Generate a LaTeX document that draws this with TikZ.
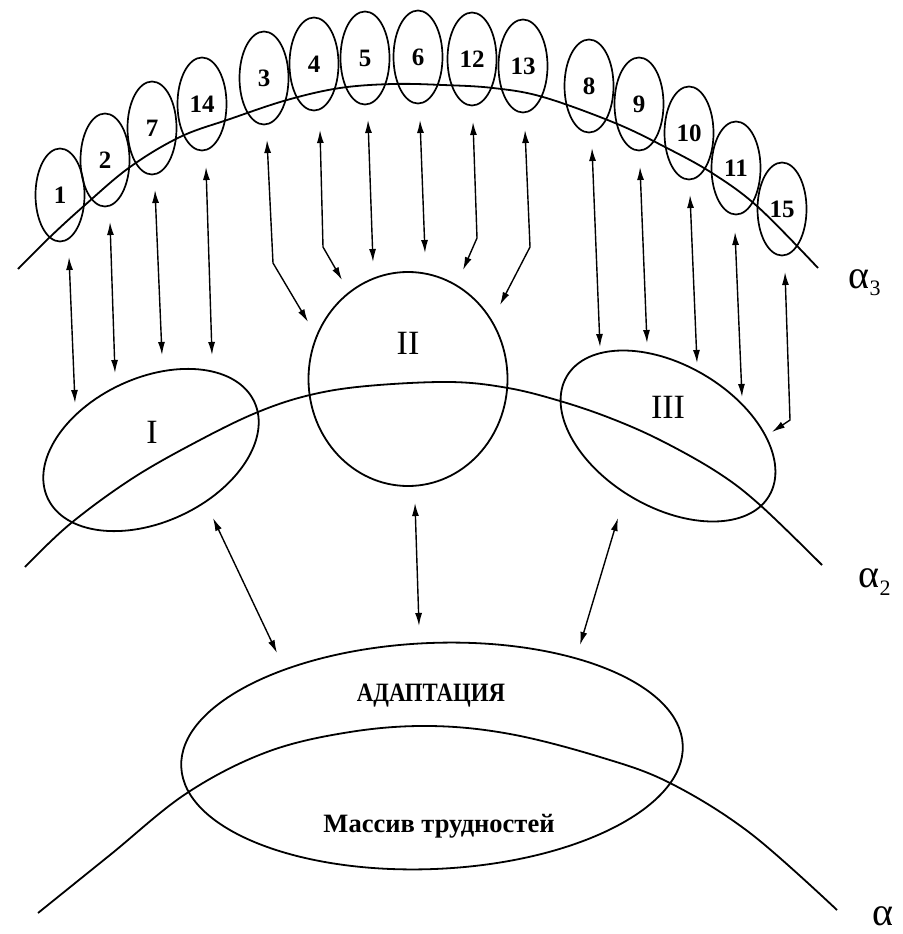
\documentclass[tikz,border=0pt]{standalone}
\usepackage{fontspec}
\setmainfont{Liberation Serif}
\usepackage{graphicx}
\usetikzlibrary{shapes.geometric,arrows.meta}
\begin{document}
\begin{tikzpicture}[x=1pt,y=-1pt,
  ln/.style={line width=1.8pt},
  small/.style={draw, ellipse, line width=1.7pt, minimum width=49pt, minimum height=93pt, inner sep=0pt, font=\fontsize{25}{25}\selectfont\bfseries},
  big/.style={draw, ellipse, line width=1.8pt, inner sep=0pt},
  roman/.style={font=\fontsize{34}{34}\selectfont, inner sep=0pt},
  biarrow/.style={line width=1.4pt, {Latex[length=13pt,width=7pt]}-{Latex[length=13pt,width=7pt]}},
  alab/.style={font=\fontsize{40}{40}\selectfont, inner sep=0pt, anchor=base west},
  sub/.style={font=\fontsize{22}{22}\selectfont, inner sep=0pt, anchor=base west},
  lbl/.style={font=\fontsize{26.5}{26.5}\selectfont\bfseries, inner sep=0pt, anchor=base}
]
\useasboundingbox (0,0) rectangle (902,934);
\fill[white] (0,0) rectangle (902,934);

% curves alpha_3, alpha_2, alpha
\draw[ln] plot[smooth, tension=0.6] coordinates {(18,269) (50,237) (85,205) (130,167) (180,137) (230,119) (287,100) (340,88) (393,84) (443,85) (493,88) (543,97) (615,123) (665,147) (712,173) (758,207) (818,268)};
\draw[ln] plot[smooth, tension=0.6] coordinates {(25,567) (70,524) (133,478) (200,440) (258,412) (310,395) (367,386) (450,382) (508,388) (560,401) (610,418) (660,440) (717,472) (760,505) (822,565)};
\draw[ln] plot[smooth, tension=0.6] coordinates {(38,913) (110,855) (187,793) (267,752) (350,732) (430,726) (510,734) (600,757) (670,783) (750,833) (837,910)};

% small ellipses
\node[small] (n1) at (60,195) {1};
\node[small] (n2) at (105,160) {2};
\node[small] (n7) at (152,128) {7};
\node[small] (n14) at (202,104) {14};
\node[small] (n3) at (264,78) {3};
\node[small] (n4) at (314,64) {4};
\node[small] (n5) at (365,58) {5};
\node[small] (n6) at (418,57) {6};
\node[small] (n12) at (472,59) {12};
\node[small] (n13) at (523,66) {13};
\node[small] (n8) at (589,86) {8};
\node[small] (n9) at (639,104) {9};
\node[small] (n10) at (689,133) {10};
\node[small] (n11) at (736,168) {11};
\node[small] (n15) at (782,209) {15};

% big ellipses
\node[big, minimum width=228pt, minimum height=144pt, rotate=25] (gI) at (151,450) {};
\node[roman] (tI) at (152,432) {I};
\node[big, minimum width=199pt, minimum height=214pt] (gII) at (408,379) {};
\node[roman] (tII) at (408,343) {II};
\node[big, minimum width=235pt, minimum height=142pt, rotate=-30.6] (gIII) at (668,436) {};
\node[roman] (tIII) at (668,407) {III};
\node[big, minimum width=502pt, minimum height=226pt, rotate=2.5] (ad) at (432,756) {};
\node[lbl] (tad) at (431,701) {\scalebox{0.86}[1]{АДАПТАЦИЯ}};
\node[lbl] (tmt) at (439,832) {Массив трудностей};

% arrow endpoints
\coordinate (a1t) at (69,257);  \coordinate (a1b) at (75,403);
\coordinate (a2t) at (110,222); \coordinate (a2b) at (115,373);
\coordinate (a7t) at (155,190); \coordinate (a7b) at (162,355);
\coordinate (a14t) at (206,167); \coordinate (a14b) at (212,355);
\coordinate (a3t) at (267,140); \coordinate (a3k) at (273,263); \coordinate (a3b) at (308,322);
\coordinate (a4t) at (320,130); \coordinate (a4k) at (323,247); \coordinate (a4b) at (342,280);
\coordinate (a5t) at (368,120); \coordinate (a5b) at (373,262);
\coordinate (a6t) at (420,120); \coordinate (a6b) at (425,253);
\coordinate (a12t) at (473,122); \coordinate (a12k) at (477,238); \coordinate (a12b) at (463,270);
\coordinate (a13t) at (525,130); \coordinate (a13k) at (530,247); \coordinate (a13b) at (500,305);
\coordinate (a8t) at (592,148); \coordinate (a8b) at (600,347);
\coordinate (a9t) at (640,167); \coordinate (a9b) at (647,343);
\coordinate (a10t) at (690,195); \coordinate (a10b) at (697,363);
\coordinate (a11t) at (735,232); \coordinate (a11b) at (742,397);
\coordinate (a15t) at (785,272); \coordinate (a15k) at (790,420); \coordinate (a15b) at (772,432);
\coordinate (bIt) at (213,518); \coordinate (bIb) at (277,653);
\coordinate (bIIt) at (415,503); \coordinate (bIIb) at (419,626);
\coordinate (bIIIt) at (618,518); \coordinate (bIIIb) at (580,645);

\draw[biarrow] (a1t) -- (a1b);
\draw[biarrow] (a2t) -- (a2b);
\draw[biarrow] (a7t) -- (a7b);
\draw[biarrow] (a14t) -- (a14b);
\draw[biarrow] (a3t) -- (a3k) -- (a3b);
\draw[biarrow] (a4t) -- (a4k) -- (a4b);
\draw[biarrow] (a5t) -- (a5b);
\draw[biarrow] (a6t) -- (a6b);
\draw[biarrow] (a12t) -- (a12k) -- (a12b);
\draw[biarrow] (a13t) -- (a13k) -- (a13b);
\draw[biarrow] (a8t) -- (a8b);
\draw[biarrow] (a9t) -- (a9b);
\draw[biarrow] (a10t) -- (a10b);
\draw[biarrow] (a11t) -- (a11b);
\draw[biarrow] (a15t) -- (a15k) -- (a15b);
\draw[biarrow] (bIt) -- (bIb);
\draw[biarrow] (bIIt) -- (bIIb);
\draw[biarrow] (bIIIt) -- (bIIIb);

% alpha labels
\node[alab] (la3) at (848,288) {α};
\node[sub] (ls3) at (la3.base east) [yshift=-7pt] {3};
\node[alab] (la2) at (858,587) {α};
\node[sub] (ls2) at (la2.base east) [yshift=-8pt] {2};
\node[alab] (la) at (872,925) {α};
\end{tikzpicture}
\end{document}
